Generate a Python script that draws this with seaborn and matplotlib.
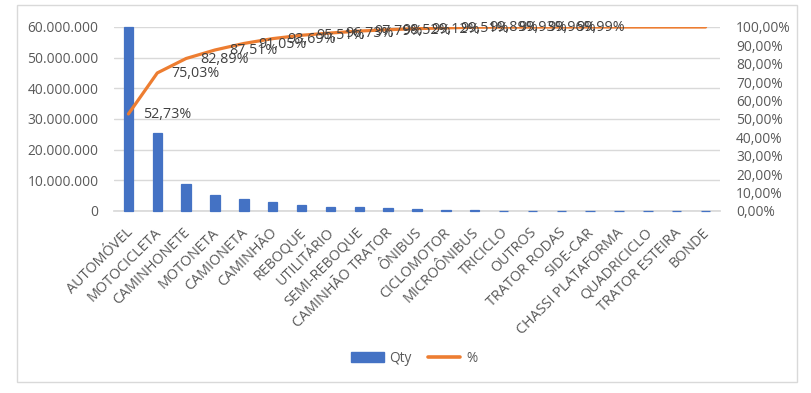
import matplotlib
matplotlib.use("Agg")
import matplotlib.pyplot as plt
import matplotlib.ticker as mticker
import matplotlib.transforms as mtrans
from matplotlib.patches import Rectangle
from matplotlib.lines import Line2D
from matplotlib.patches import Patch
import seaborn as sns
import pandas as pd

categories = ["AUTOMÓVEL", "MOTOCICLETA", "CAMINHONETE", "MOTONETA", "CAMIONETA",
              "CAMINHÃO", "REBOQUE", "UTILITÁRIO", "SEMI-REBOQUE", "CAMINHÃO TRATOR",
              "ÔNIBUS", "CICLOMOTOR", "MICROÔNIBUS", "TRICICLO", "OUTROS",
              "TRATOR RODAS", "SIDE-CAR", "CHASSI PLATAFORMA", "QUADRICICLO",
              "TRATOR ESTEIRA", "BONDE"]
qty = [60000000, 25380000, 8950000, 5260000, 4030000, 3000000, 2070000, 1390000,
       1210000, 830000, 680000, 440000, 430000, 45000, 35000, 35000, 11000,
       3000, 2000, 1000, 500]
pct = [52.73, 75.03, 82.89, 87.51, 91.05, 93.69, 95.51, 96.73, 97.79, 98.52,
       99.12, 99.51, 99.89, 99.93, 99.96, 99.99, 100.0, 100.0, 100.0, 100.0, 100.0]
n_labels = 16

df = pd.DataFrame({"cat": categories, "qty": qty, "pct": pct})

sns.set_theme(style="white")
plt.rcParams['font.family'] = ['Open Sans', 'DejaVu Sans']

BLUE = "#4472C4"
ORANGE = "#ED7D31"
TXT = "#595959"
GRID = "#D9D9D9"
FS_Y = 9.9
FS_X = 10.4
FS_LBL = 10.3
FS_LEG = 9.8

W, H = 811, 393
fig = plt.figure(figsize=(W / 100, H / 100), dpi=100)
fig.patches.append(Rectangle((17 / W, 11 / H), 780 / W, 377 / H, transform=fig.transFigure,
                             fill=False, edgecolor=GRID, linewidth=1))
n = len(categories)
ax = fig.add_axes([114 / W, (H - 211) / H, 606 / W, 184 / H])
sns.barplot(data=df, x="cat", y="qty", color=BLUE, width=0.33, ax=ax,
            edgecolor=BLUE, linewidth=0.9, saturation=1)
for p in ax.patches:
    p.set_zorder(3)
    p.set_clip_on(False)
ax.set_xlim(-0.5, n - 0.5)
ax.set_ylim(0, 60000000)
ax.set_yticks(range(0, 60000001, 10000000))
ax.yaxis.set_major_formatter(mticker.FuncFormatter(lambda v, p: f"{int(v):,}".replace(",", ".")))
ax.grid(axis="y", color=GRID, linewidth=1)
ax.set_axisbelow(True)
for s in ["top", "right", "left"]:
    ax.spines[s].set_visible(False)
ax.spines["bottom"].set_color(GRID)
ax.spines["bottom"].set_zorder(1)
ax.set_xlabel("")
ax.set_ylabel("")
ax.tick_params(axis="y", colors=TXT, labelsize=FS_Y, length=0, pad=11)
ax.tick_params(axis="x", colors=TXT, labelsize=FS_X, length=0, pad=14)
shift = mtrans.ScaledTranslation(2 / 100, 0, fig.dpi_scale_trans)
for lab in ax.get_xticklabels():
    lab.set_rotation(45)
    lab.set_ha("right")
    lab.set_va("center")
    lab.set_rotation_mode("anchor")
    lab.set_transform(lab.get_transform() + shift)

ax2 = ax.twinx()
sns.lineplot(x=list(range(n)), y=pct, color=ORANGE, linewidth=2.3, ax=ax2)
ax2.set_ylim(0, 100)
ax2.set_yticks(range(0, 101, 10))
ax2.yaxis.set_major_formatter(mticker.FuncFormatter(lambda v, p: f"{v:.2f}%".replace(".", ",")))
ax2.tick_params(axis="y", colors=TXT, labelsize=FS_Y, length=0, pad=11.5)
for s in ["top", "right", "left", "bottom"]:
    ax2.spines[s].set_visible(False)
for i in range(n_labels):
    ax2.annotate(f"{pct[i]:.2f}%".replace(".", ","), (i, pct[i]), xytext=(10.5, -0.5),
                 textcoords="offset points", ha="left", va="center",
                 fontsize=FS_LBL, color="#404040")

handles = [Patch(color=BLUE, label="Qty"), Line2D([0], [0], color=ORANGE, lw=2.6, label="%")]
fig.legend(handles=handles, loc="center", bbox_to_anchor=(414 / W, (H - 358) / H), ncol=2,
           frameon=False, fontsize=FS_LEG, labelcolor=TXT, handlelength=2.4, columnspacing=1.2,
           handletextpad=0.4)

fig.savefig("out.png", dpi=100)
